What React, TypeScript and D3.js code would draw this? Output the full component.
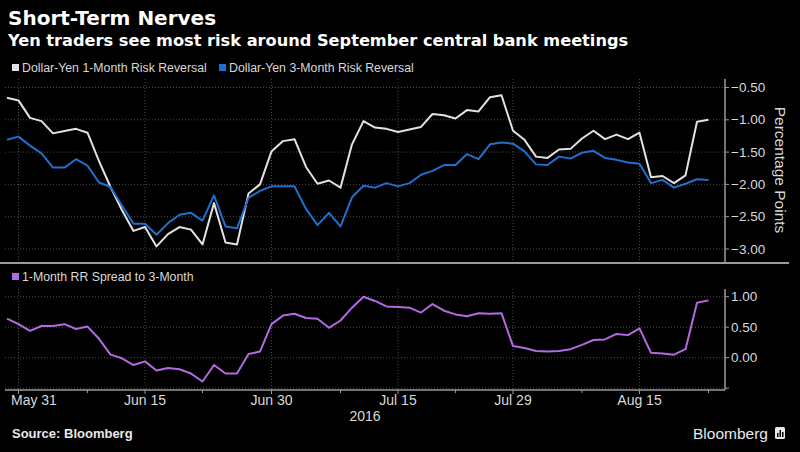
import React from "react";
import * as d3 from "d3";

const W = 800;
const H = 452;

// Business days May 30 – Aug 23, 2016 (category axis)
const dates: string[] = d3.timeDay
  .range(new Date(2016, 4, 30), new Date(2016, 7, 24))
  .filter((d) => d.getDay() % 6 !== 0)
  .map(d3.timeFormat("%Y-%m-%d"));

const rr1m = [
  -0.66, -0.70, -0.97, -1.02, -1.21, -1.175, -1.14, -1.20, -1.64, -2.04,
  -2.40, -2.72, -2.66, -2.96, -2.77, -2.66, -2.70, -2.93, -2.29, -2.90,
  -2.93, -2.14, -2.00, -1.49, -1.33, -1.30, -1.73, -1.99, -1.94, -2.05,
  -1.38, -1.02, -1.12, -1.14, -1.19, -1.15, -1.11, -0.91, -0.93, -0.98,
  -0.85, -0.87, -0.65, -0.62, -1.17, -1.31, -1.57, -1.59, -1.46, -1.45,
  -1.29, -1.17, -1.30, -1.23, -1.30, -1.20, -1.89, -1.87, -1.98, -1.86,
  -1.03, -1.00,
];

const rr3m = [
  -1.31, -1.26, -1.40, -1.52, -1.74, -1.74, -1.61, -1.71, -1.97, -2.04,
  -2.33, -2.61, -2.61, -2.78, -2.60, -2.47, -2.44, -2.56, -2.17, -2.65,
  -2.68, -2.21, -2.10, -2.03, -2.03, -2.03, -2.38, -2.63, -2.44, -2.65,
  -2.20, -2.02, -2.05, -1.98, -2.03, -1.98, -1.85, -1.79, -1.70, -1.70,
  -1.53, -1.61, -1.38, -1.35, -1.37, -1.49, -1.69, -1.70, -1.57, -1.60,
  -1.51, -1.48, -1.59, -1.62, -1.66, -1.68, -1.98, -1.93, -2.05, -1.99,
  -1.92, -1.93,
];

const spread = [
  0.64, 0.55, 0.44, 0.52, 0.52, 0.55, 0.47, 0.51, 0.31, 0.05,
  -0.01, -0.12, -0.06, -0.21, -0.17, -0.19, -0.26, -0.39, -0.12, -0.26,
  -0.26, 0.06, 0.10, 0.55, 0.69, 0.72, 0.65, 0.64, 0.49, 0.61,
  0.82, 1.00, 0.93, 0.84, 0.83, 0.82, 0.74, 0.88, 0.77, 0.71,
  0.68, 0.73, 0.72, 0.73, 0.19, 0.16, 0.11, 0.10, 0.11, 0.14,
  0.21, 0.29, 0.30, 0.39, 0.37, 0.48, 0.08, 0.07, 0.05, 0.14,
  0.90, 0.94,
];

const majorTicks = [
  { date: "2016-05-31", label: "May 31" },
  { date: "2016-06-15", label: "Jun 15" },
  { date: "2016-06-30", label: "Jun 30" },
  { date: "2016-07-15", label: "Jul 15" },
  { date: "2016-07-29", label: "Jul 29" },
  { date: "2016-08-15", label: "Aug 15" },
];
const minorTicks = ["2016-06-08", "2016-06-22", "2016-07-08", "2016-07-22", "2016-08-08", "2016-08-23"];

const topTicks = [-0.5, -1.0, -1.5, -2.0, -2.5, -3.0];
const botTicks = [1.0, 0.5, 0.0];
const botGrid = [1.0, 0.5, 0.0, -0.5];

const C_WHITE = "#e2e2e2";
const C_BLUE = "#1f6fce";
const C_PURPLE = "#b26ae0";
const C_GRID = "#4a4a4a";
const C_AXIS = "#9a9a9a";

export default function App() {
  const plotL = 5;
  const plotR = 725;
  const x = d3.scalePoint<string>().domain(dates).range([7, 708.5]);
  const yTop = d3.scaleLinear().domain([-3, -0.5]).range([249, 87.5]);
  const yBot = d3.scaleLinear().domain([-0.5, 1.0]).range([388.2, 296.7]);
  const topY0 = 79, topY1 = 263;
  const botY0 = 289, botY1 = 390;

  const lineTop = (vals: number[]) =>
    d3.line<number>().x((_, i) => x(dates[i])!).y((v) => yTop(v))(vals) || "";
  const lineBot = (vals: number[]) =>
    d3.line<number>().x((_, i) => x(dates[i])!).y((v) => yBot(v))(vals) || "";

  const fmt = d3.format(".2f");

  return (
    <svg width={W} height={H} style={{ display: "block", position: "absolute", left: 0, top: 0, background: "#000" }}
      fontFamily="'Liberation Sans', Arial, sans-serif">
      <rect x={0} y={0} width={W} height={H} fill="#000" />
      {/* Titles */}
      <text x={8} y={25} fill="#fff" fontSize={20} fontWeight="bold" fontFamily="'DejaVu Sans', sans-serif">Short-Term Nerves</text>
      <text x={8} y={46} fill="#fff" fontSize={16.2} fontWeight="bold" fontFamily="'DejaVu Sans', sans-serif">Yen traders see most risk around September central bank meetings</text>

      {/* Top legend */}
      <rect x={12} y={64} width={7} height={7} fill={C_WHITE} />
      <text x={22} y={72} fill="#d8d8d8" fontSize={12.3}>Dollar-Yen 1-Month Risk Reversal</text>
      <rect x={219} y={64} width={7} height={7} fill={C_BLUE} />
      <text x={229} y={72} fill="#d8d8d8" fontSize={12.3}>Dollar-Yen 3-Month Risk Reversal</text>

      {/* Top panel grid */}
      {topTicks.map((t) => (
        <line key={"tg" + t} x1={plotL} x2={plotR} y1={yTop(t)} y2={yTop(t)} stroke={C_GRID} strokeDasharray="1,2" />
      ))}
      {majorTicks.map((t) => (
        <line key={"tv" + t.date} x1={x(t.date)} x2={x(t.date)} y1={topY0} y2={topY1} stroke={C_GRID} strokeDasharray="1,2" />
      ))}
      <path d={lineTop(rr1m)} fill="none" stroke={C_WHITE} strokeWidth={2} strokeLinejoin="round" />
      <path d={lineTop(rr3m)} fill="none" stroke={C_BLUE} strokeWidth={2} strokeLinejoin="round" />

      {/* Top right axis */}
      <line x1={plotR} x2={plotR} y1={topY0} y2={topY1} stroke={C_AXIS} strokeWidth={1.5} />
      {topTicks.map((t) => (
        <g key={"ta" + t}>
          <line x1={plotR} x2={plotR + 4} y1={yTop(t)} y2={yTop(t)} stroke={C_AXIS} />
          <text x={731} y={yTop(t) + 4.5} fill="#d8d8d8" fontSize={13.5}>{fmt(t)}</text>
        </g>
      ))}
      <text transform={`translate(775,170) rotate(90)`} textAnchor="middle" fill="#d8d8d8" fontSize={15.5}>Percentage Points</text>

      {/* Separator */}
      <line x1={0} x2={789} y1={topY1} y2={topY1} stroke={C_AXIS} strokeWidth={2} />

      {/* Bottom legend */}
      <rect x={12} y={273} width={7} height={7} fill={C_PURPLE} />
      <text x={22} y={281} fill="#d8d8d8" fontSize={12.3}>1-Month RR Spread to 3-Month</text>

      {/* Bottom grid */}
      {botGrid.map((t) => (
        <line key={"bg" + t} x1={plotL} x2={plotR} y1={yBot(t)} y2={yBot(t)} stroke={C_GRID} strokeDasharray="1,2" />
      ))}
      {majorTicks.map((t) => (
        <line key={"bv" + t.date} x1={x(t.date)} x2={x(t.date)} y1={botY0} y2={botY1} stroke={C_GRID} strokeDasharray="1,2" />
      ))}
      <path d={lineBot(spread)} fill="none" stroke={C_PURPLE} strokeWidth={2} strokeLinejoin="round" />

      {/* Bottom right axis */}
      <line x1={plotR} x2={plotR} y1={botY0} y2={botY1} stroke={C_AXIS} strokeWidth={1.5} />
      {botGrid.map((t) => (
        <line key={"bt" + t} x1={plotR} x2={plotR + 4} y1={yBot(t)} y2={yBot(t)} stroke={C_AXIS} />
      ))}
      {botTicks.map((t) => (
        <text key={"bl" + t} x={731} y={yBot(t) + 4.5} fill="#d8d8d8" fontSize={13.5}>{fmt(t)}</text>
      ))}

      {/* X axis */}
      <line x1={plotL} x2={plotR} y1={botY1} y2={botY1} stroke={C_AXIS} strokeWidth={1.5} />
      {majorTicks.map((t) => (
        <line key={"xt" + t.date} x1={x(t.date)} x2={x(t.date)} y1={botY1} y2={botY1 + 4} stroke={C_AXIS} />
      ))}
      {minorTicks.map((d) => (
        <line key={"xm" + d} x1={x(d)} x2={x(d)} y1={botY1} y2={botY1 + 3} stroke={C_AXIS} />
      ))}
      {majorTicks.map((t, i) => (
        <text key={"xl" + t.date} x={i === 0 ? 11 : x(t.date)} y={405} textAnchor={i === 0 ? "start" : "middle"}
          fill="#d8d8d8" fontSize={14}>{t.label}</text>
      ))}
      <text x={365} y={421} textAnchor="middle" fill="#d8d8d8" fontSize={14}>2016</text>

      {/* Footer */}
      <text x={12} y={438} fill="#e8e8e8" fontSize={13} fontWeight="bold">Source: Bloomberg</text>
      <text x={768} y={439} textAnchor="end" fill="#e8e8e8" fontSize={15.5}>Bloomberg</text>
      <rect x={775} y={427} width={10} height={12} rx={1.5} fill="#e8e8e8" />
      <rect x={777} y={433} width={1.5} height={4} fill="#000" />
      <rect x={779.5} y={430} width={1.5} height={7} fill="#000" />
      <rect x={782} y={432} width={1.5} height={5} fill="#000" />
    </svg>
  );
}
